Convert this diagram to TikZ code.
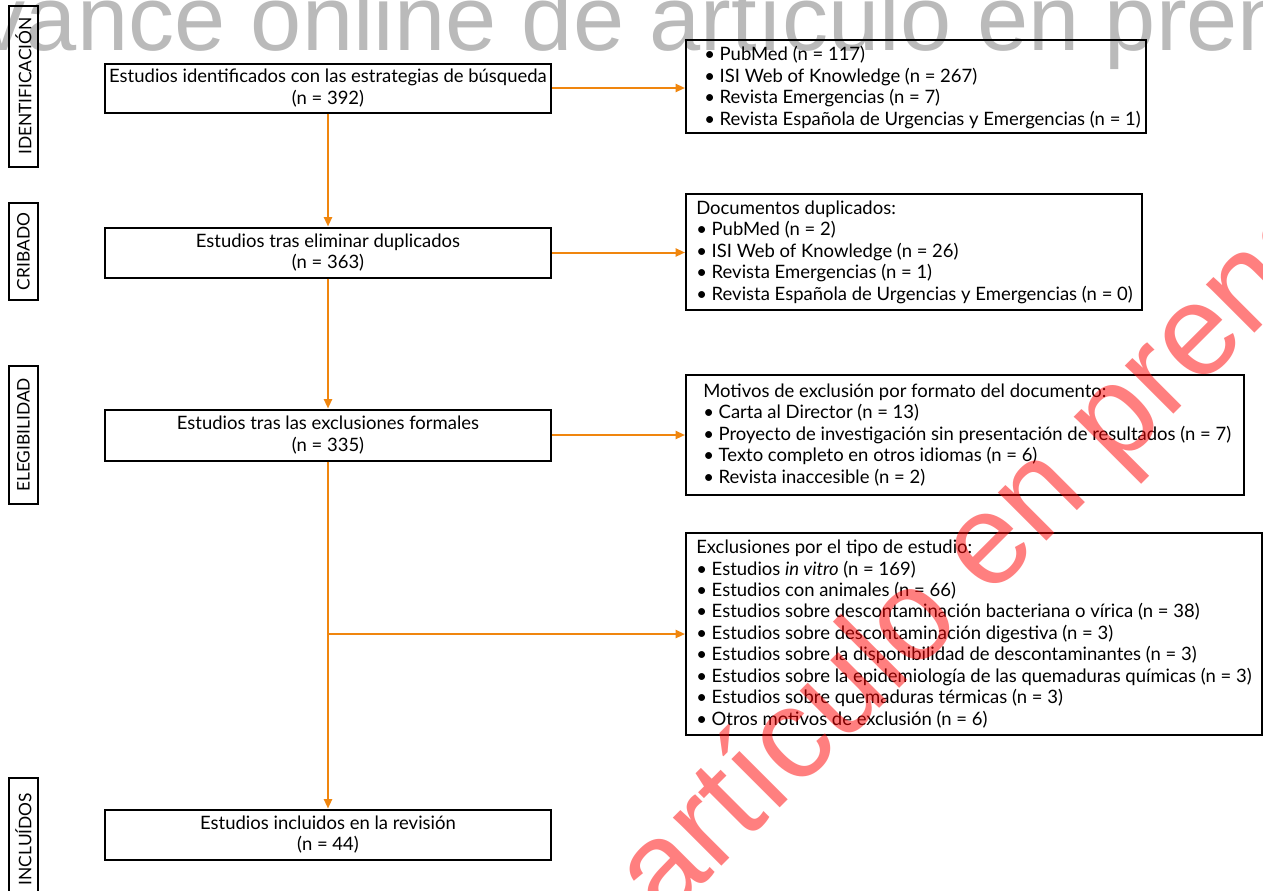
\documentclass[tikz,border=0pt]{standalone}
\usepackage{fontspec}
\setmainfont{Lato}
\newfontfamily\wmfont{Liberation Sans}
\usetikzlibrary{arrows.meta}
\definecolor{flow}{RGB}{240,134,14}
\newcommand\pxu{0.75pt}
\begin{document}
\begin{tikzpicture}[x=0.75pt,y=-0.75pt,
  txt/.style={font=\fontsize{13.85}{16.1}\selectfont},
  mainbox/.style={draw,line width=1.5pt,fill=white,inner sep=0pt,align=center,txt,
    minimum width=446*\pxu},
  sidebox/.style={draw,line width=1.5pt,fill=white,inner sep=0pt,rotate=90,
    minimum height=29*\pxu,font=\fontsize{13}{15}\selectfont},
  listbox/.style={draw,line width=1.5pt,fill=white,inner sep=0pt},
  listtxt/.style={anchor=west,align=left,inner sep=0pt,txt},
  flowarrow/.style={draw=flow,line width=1.5pt,-{Triangle[length=7pt,width=6pt]}},
  wm/.style={inner sep=0pt,anchor=base west,font=\wmfont\fontsize{69}{69}\selectfont}
]
\useasboundingbox (0,0) rectangle (1263,890);
\clip (0,0) rectangle (1263,890);
\fill[white] (0,0) rectangle (1263,890);

% side labels
\node[sidebox,minimum width=161*\pxu] (sid) at (23.5,86) {IDENTIFICACIÓN};
\node[sidebox,minimum width=97*\pxu] (scr) at (23.5,251.5) {CRIBADO};
\node[sidebox,minimum width=138*\pxu] (sel) at (23.5,435) {ELEGIBILIDAD};
\node[sidebox,minimum width=122*\pxu] (sin) at (23.5,839) {INCLUÍDOS};

% main boxes
\node[mainbox,minimum height=49*\pxu] (b1) at (328,88) {Estudios identificados con las estrategias de búsqueda\\(n = 392)};
\node[mainbox,minimum height=50*\pxu] (b2) at (328,252.5) {Estudios tras eliminar duplicados\\(n = 363)};
\node[mainbox,minimum height=51*\pxu] (b3) at (328,435) {Estudios tras las exclusiones formales\\(n = 335)};
\node[mainbox,minimum height=50*\pxu] (b4) at (328,834.5) {Estudios incluidos en la revisión\\(n = 44)};

% list boxes
\node[listbox,minimum width=460*\pxu,minimum height=93*\pxu] (r1) at (916,86.5) {};
\node[listtxt] (t1) at ([xshift=19*\pxu,yshift=-1*\pxu]r1.west) {\textbullet\ PubMed (n = 117)\\\textbullet\ ISI Web of Knowledge (n = 267)\\\textbullet\ Revista Emergencias (n = 7)\\\textbullet\ Revista Española de Urgencias y Emergencias (n = 1)};

\node[listbox,minimum width=456*\pxu,minimum height=116*\pxu] (r2) at (914,252) {};
\node[listtxt] (t2) at ([xshift=11*\pxu]r2.west) {Documentos duplicados:\\\textbullet\ PubMed (n = 2)\\\textbullet\ ISI Web of Knowledge (n = 26)\\\textbullet\ Revista Emergencias (n = 1)\\\textbullet\ Revista Española de Urgencias y Emergencias (n = 0)};

\node[listbox,minimum width=558*\pxu,minimum height=120*\pxu] (r3) at (965,435) {};
\node[listtxt] (t3) at ([xshift=18*\pxu]r3.west) {Motivos de exclusión por formato del documento:\\\textbullet\ Carta al Director (n = 13)\\\textbullet\ Proyecto de investigación sin presentación de resultados (n = 7)\\\textbullet\ Texto completo en otros idiomas (n = 6)\\\textbullet\ Revista inaccesible (n = 2)};

\node[listbox,minimum width=576*\pxu,minimum height=202*\pxu] (r4) at (974,634) {};
\node[listtxt] (t4) at ([xshift=11*\pxu]r4.west) {Exclusiones por el tipo de estudio:\\\textbullet\ Estudios \textit{in vitro} (n = 169)\\\textbullet\ Estudios con animales (n = 66)\\\textbullet\ Estudios sobre descontaminación bacteriana o vírica (n = 38)\\\textbullet\ Estudios sobre descontaminación digestiva (n = 3)\\\textbullet\ Estudios sobre la disponibilidad de descontaminantes (n = 3)\\\textbullet\ Estudios sobre la epidemiología de las quemaduras químicas (n = 3)\\\textbullet\ Estudios sobre quemaduras térmicas (n = 3)\\\textbullet\ Otros motivos de exclusión (n = 6)};

% connectors
\draw[flowarrow] (b1.east) -- (b1.east -| r1.west);
\draw[flowarrow] (b2.east) -- (b2.east -| r2.west);
\draw[flowarrow] (b3.east) -- (b3.east -| r3.west);
\draw[flowarrow] (b1.south) -- (b2.north);
\draw[flowarrow] (b2.south) -- (b3.north);
\draw[flowarrow] (b3.south) -- (b4.north);
\coordinate (br) at (b3.south |- r4.west);
\draw[flowarrow] (br) -- (r4.west);

% watermarks
\node[wm,text=black,text opacity=0.27] (wmg) at (-80,50) {Avance online de artículo en prensa};
\node[wm,rotate=45,text=red,text opacity=0.5,font=\wmfont\fontsize{97}{97}\selectfont] (wmr) at (-61,1649) {Avance online de artículo en prensa};
\end{tikzpicture}
\end{document}
